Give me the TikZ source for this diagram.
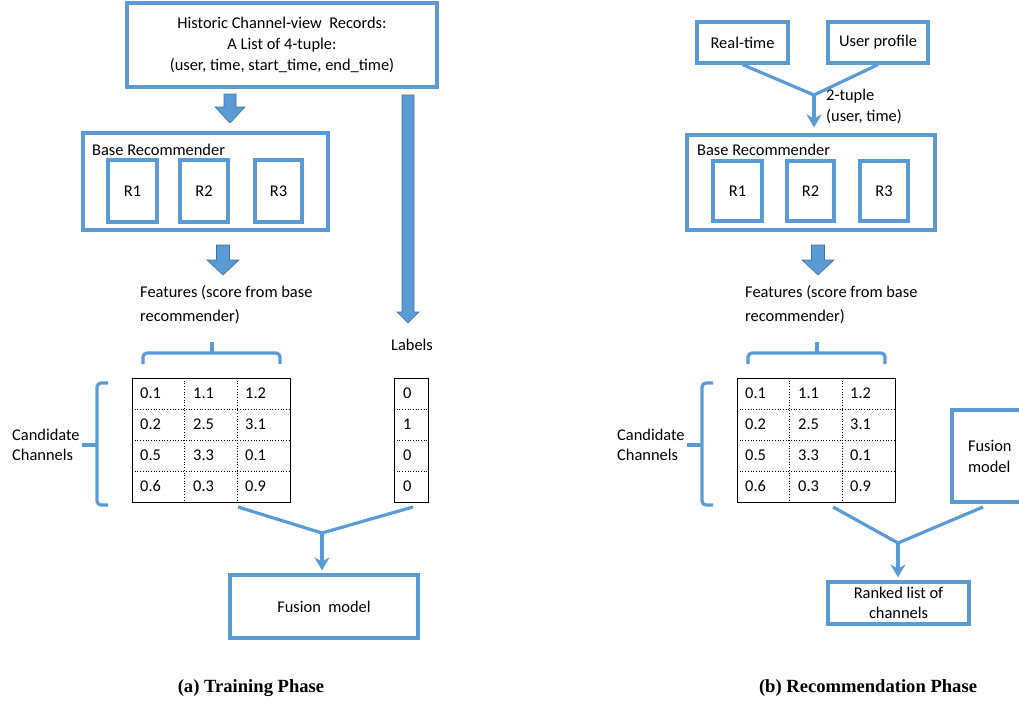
\documentclass[tikz,border=0pt]{standalone}
\usepackage{fontspec}
\setmainfont{Carlito}
\newfontfamily\capfont{Liberation Serif}
\usetikzlibrary{arrows.meta, positioning, calc}
\definecolor{boxBlue}{RGB}{91,155,213}
\definecolor{edgeBlue}{RGB}{65,113,156}

\begin{document}
\begin{tikzpicture}[x=1pt, y=-1pt,
    txt/.style={font=\fontsize{16.4}{21}\selectfont, inner sep=0pt},
    bluebox/.style={draw=boxBlue, line width=3.2pt, txt, align=center},
    link/.style={draw=boxBlue, line width=3.2pt},
    linkarrow/.style={link, -{Stealth[length=13pt, width=15pt]}},
    brace/.style={draw=boxBlue, line width=3.2pt, rounded corners=4pt},
    caption/.style={font=\capfont\bfseries\fontsize{18.6}{20}\selectfont, inner sep=0pt}]
  \useasboundingbox (0,0) rectangle (1019,704);

  % (a) training phase
  \node[bluebox, minimum width=310pt, minimum height=84pt] (hist) at (282,45)
    {Historic Channel-view\ \ Records:\\A List of 4-tuple:\\(user, time, start\_time, end\_time)};
  \node[bluebox, minimum width=245pt, minimum height=97pt] (baseL) at (205.5,181.5) {};
  \node[txt, anchor=west] (baseLtxt) at (92,150) {Base Recommender};
  \node[bluebox, minimum width=49pt, minimum height=62pt] (r1L) at (132.5,191) {R1};
  \node[bluebox, minimum width=48pt, minimum height=62pt] (r2L) at (204,191) {R2};
  \node[bluebox, minimum width=47pt, minimum height=62pt] (r3L) at (278.5,191) {R3};
  \node[txt, anchor=west, align=left, font=\fontsize{16.4}{24}\selectfont] (featL) at (140,305)
    {Features (score from base\\recommender)};
  \node[txt] (labels) at (412,345) {Labels};
  \node[txt, anchor=west, align=left, font=\fontsize{16.4}{20}\selectfont] (candL) at (12,445)
    {Candidate\\Channels};
  \node[bluebox, minimum width=188pt, minimum height=63pt] (fusL) at (324,606.5) {Fusion\ \ model};

  % (b) recommendation phase
  \node[bluebox, minimum width=91pt, minimum height=41pt] (realtime) at (742.5,42.5) {Real-time};
  \node[bluebox, minimum width=100pt, minimum height=41pt] (profile) at (878,42.5) {User profile};
  \node[txt, anchor=west, align=left] (tuple) at (826,106) {2-tuple\\(user, time)};
  \node[bluebox, minimum width=248pt, minimum height=95pt] (baseR) at (811,182.5) {};
  \node[txt, anchor=west] (baseRtxt) at (697,150) {Base Recommender};
  \node[bluebox, minimum width=49pt, minimum height=60pt] (r1R) at (737.5,191) {R1};
  \node[bluebox, minimum width=47pt, minimum height=60pt] (r2R) at (810.5,191) {R2};
  \node[bluebox, minimum width=48pt, minimum height=60pt] (r3R) at (884,191) {R3};
  \node[txt, anchor=west, align=left, font=\fontsize{16.4}{24}\selectfont] (featR) at (745,305)
    {Features (score from base\\recommender)};
  \node[txt, anchor=west, align=left, font=\fontsize{16.4}{20}\selectfont] (candR) at (617,445)
    {Candidate\\Channels};
  \node[bluebox, minimum width=70pt, minimum height=92pt, text width=38pt, align=left] (fusR) at (987,456)
    {Fusion\\model};
  \node[bluebox, minimum width=141pt, minimum height=42pt, font=\fontsize{16.4}{20}\selectfont] (ranked) at (898.5,603)
    {Ranked list of\\channels};

  % block arrows
  \foreach \xm/\ya/\yb/\yc/\sw/\hw in {230/94/107/123/6/15, 223/245/260/275/6.5/16,
      408/95/312/323/6/11, 818/245/260/275/6.5/16}{
    \filldraw[fill=boxBlue, draw=edgeBlue, line width=0.6pt]
      (\xm-\sw,\ya) -- (\xm+\sw,\ya) -- (\xm+\sw,\yb) -- (\xm+\hw,\yb) -- (\xm,\yc)
      -- (\xm-\hw,\yb) -- (\xm-\sw,\yb) -- cycle;
  }

  % feature tables
  \foreach \ox in {0,605}{
    \draw[line width=0.8pt] (132+\ox,378) rectangle (290+\ox,502);
    \draw[dotted, line width=0.7pt] (184+\ox,378) -- (184+\ox,502) (237+\ox,378) -- (237+\ox,502);
    \foreach \yr in {409,440,471}
      \draw[dotted, line width=0.7pt] (132+\ox,\yr) -- (290+\ox,\yr);
    \foreach \r/\va/\vb/\vc in {0/0.1/1.1/1.2, 1/0.2/2.5/3.1, 2/0.5/3.3/0.1, 3/0.6/0.3/0.9}{
      \node[txt, anchor=west] (ca\ox\r) at (140+\ox,393.5+31*\r) {\va};
      \node[txt, anchor=west] (cb\ox\r) at (193+\ox,393.5+31*\r) {\vb};
      \node[txt, anchor=west] (cc\ox\r) at (245+\ox,393.5+31*\r) {\vc};
    }
    % braces
    \draw[brace] (143+\ox,364) -- (143+\ox,353) -- (280+\ox,353) -- (280+\ox,364);
    \draw[link] (212+\ox,353) -- (212+\ox,342);
    \draw[brace] (108+\ox,383) -- (97+\ox,383) -- (97+\ox,505) -- (108+\ox,505);
    \draw[link] (97+\ox,445) -- (82+\ox,445);
  }

  % label column
  \draw[line width=0.8pt] (394,378) rectangle (428,502);
  \foreach \yr in {409,440,471}
    \draw[dotted, line width=0.7pt] (394,\yr) -- (428,\yr);
  \foreach \r/\v in {0/0, 1/1, 2/0, 3/0}
    \node[txt, anchor=west] (lab\r) at (403,393.5+31*\r) {\v};

  % merging connectors
  \coordinate (fromFeatL) at (238,507);
  \coordinate (fromLab) at (413,507);
  \coordinate (jL) at (322,533);
  \draw[link] (fromFeatL) -- (jL) -- (fromLab);
  \draw[linkarrow, shorten >=3pt] (jL) -- (jL |- fusL.north);

  \coordinate (jTop) at (814,95);
  \draw[link] (realtime.south) -- (jTop) -- (profile.south);
  \draw[linkarrow, shorten >=6pt] (jTop) -- (jTop |- baseR.north);

  \coordinate (fromFeatR) at (833,507);
  \coordinate (fromFus) at (983,507);
  \coordinate (jR) at (898,543);
  \draw[link] (fromFeatR) -- (jR) -- (fromFus);
  \draw[linkarrow, shorten >=3pt] (jR) -- (jR |- ranked.north);

  % captions
  \node[caption] (capA) at (251,688) {(a) Training Phase};
  \node[caption] (capB) at (868,688) {(b) Recommendation Phase};
\end{tikzpicture}
\end{document}
